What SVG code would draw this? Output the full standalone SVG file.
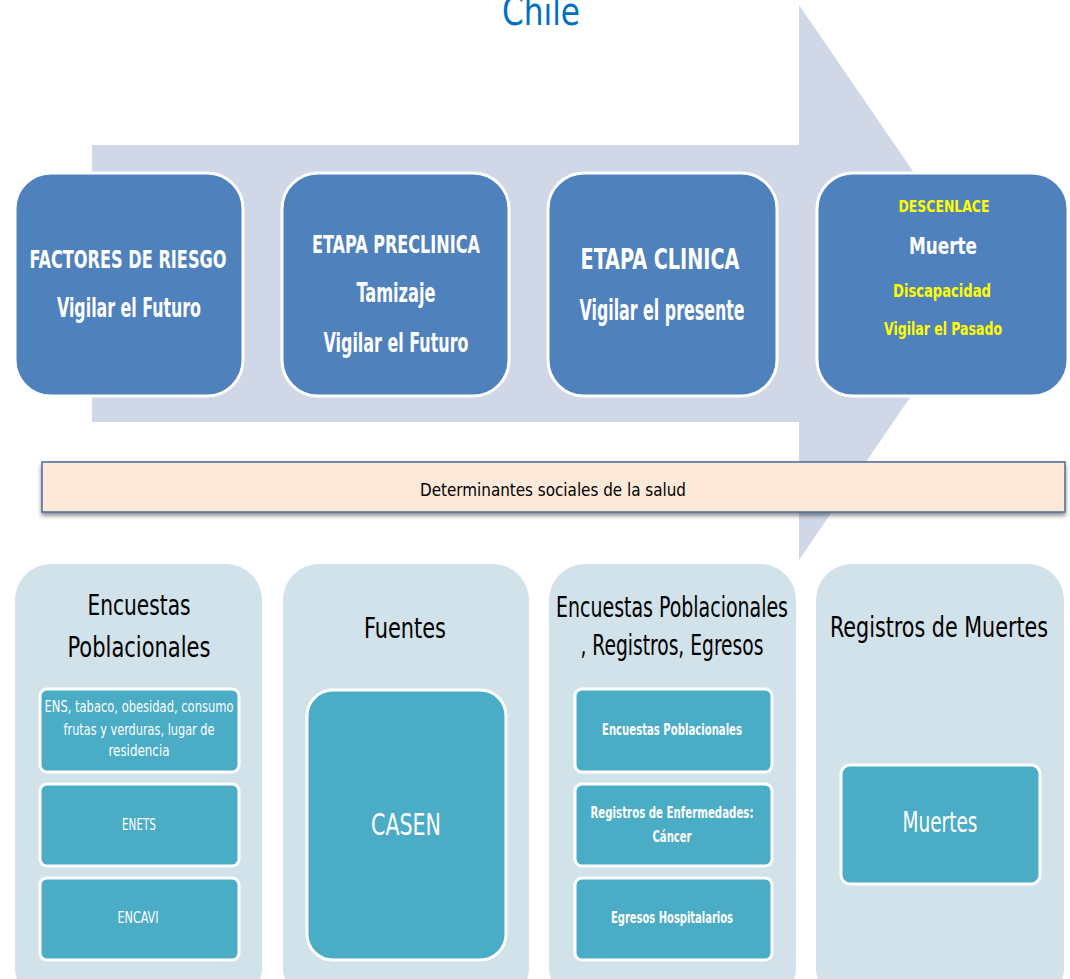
<svg xmlns="http://www.w3.org/2000/svg" width="1070" height="979" viewBox="0 0 1070 979">
<defs>
<style>
text{font-family:"Liberation Sans Narrow","DejaVu Sans Condensed","Liberation Sans",sans-serif;text-anchor:middle}
.stage{fill:#4F81BD;stroke:#FFFFFF;stroke-width:3}
.panel{fill:#D1E2EA}
.inner{fill:#4BACC6;stroke:#FFFFFF;stroke-width:3}
.w{fill:#FFFFFF}
.wb{fill:#FFFFFF;font-weight:bold}
.yb{fill:#FFFF00;font-weight:bold}
.k{fill:#000000}
</style>
<filter id="sh" x="-5%" y="-30%" width="110%" height="170%">
<feDropShadow dx="0" dy="3" stdDeviation="2" flood-color="#000000" flood-opacity="0.45"/>
</filter>
</defs>
<rect width="1070" height="979" fill="#FFFFFF"/>
<text x="541" y="25" font-size="39" fill="#0070C0" textLength="78" lengthAdjust="spacingAndGlyphs">Chile</text>
<g id="connectors">
<polygon points="92,145 799,145 799,5 989,282 799,560 799,422 92,422" fill="#D0D8E8"/>
</g>
<g id="factores">
<rect class="stage" x="15" y="173" width="228" height="223" rx="36"/>
<text class="wb" x="128" y="268" font-size="24" textLength="197" lengthAdjust="spacingAndGlyphs">FACTORES DE RIESGO</text>
<text class="wb" x="129" y="317" font-size="27" textLength="144" lengthAdjust="spacingAndGlyphs">Vigilar el Futuro</text>
</g>
<g id="preclinica">
<rect class="stage" x="282" y="173" width="227" height="223" rx="36"/>
<text class="wb" x="396" y="253" font-size="24" textLength="168" lengthAdjust="spacingAndGlyphs">ETAPA PRECLINICA</text>
<text class="wb" x="396" y="302" font-size="27" textLength="79" lengthAdjust="spacingAndGlyphs">Tamizaje</text>
<text class="wb" x="396" y="352" font-size="27" textLength="145" lengthAdjust="spacingAndGlyphs">Vigilar el Futuro</text>
</g>
<g id="clinica">
<rect class="stage" x="548" y="173" width="229" height="223" rx="36"/>
<text class="wb" x="660" y="269" font-size="28" textLength="159" lengthAdjust="spacingAndGlyphs">ETAPA CLINICA</text>
<text class="wb" x="662" y="320" font-size="28" textLength="165" lengthAdjust="spacingAndGlyphs">Vigilar  el presente</text>
</g>
<g id="descenlace">
<rect class="stage" x="817" y="173" width="251" height="223" rx="36"/>
<text class="yb" x="944" y="212" font-size="16" textLength="91" lengthAdjust="spacingAndGlyphs">DESCENLACE</text>
<text class="wb" x="943" y="254" font-size="23" textLength="68" lengthAdjust="spacingAndGlyphs">Muerte</text>
<text class="yb" x="942" y="297" font-size="18" textLength="98" lengthAdjust="spacingAndGlyphs">Discapacidad</text>
<text class="yb" x="943" y="335" font-size="17" textLength="118" lengthAdjust="spacingAndGlyphs">Vigilar el Pasado</text>
</g>
<g id="determinantes">
<rect x="42" y="462" width="1023" height="50" fill="#FDE9D9" stroke="#4A6A96" stroke-width="1.5" filter="url(#sh)"/>
<text class="k" x="553" y="496" font-size="18" textLength="266" lengthAdjust="spacingAndGlyphs">Determinantes sociales de la salud</text>
</g>
<g id="panel-encuestas">
<rect class="panel" x="15" y="564" width="247" height="440" rx="36"/>
<text class="k" x="139" y="615" font-size="28" textLength="103" lengthAdjust="spacingAndGlyphs">Encuestas</text>
<text class="k" x="139" y="657" font-size="28" textLength="143" lengthAdjust="spacingAndGlyphs">Poblacionales</text>
</g>
<g id="ens">
<rect class="inner" x="40" y="689" width="199" height="83" rx="7"/>
<text class="w" x="139" y="712" font-size="15" textLength="189" lengthAdjust="spacingAndGlyphs">ENS,  tabaco, obesidad, consumo</text>
<text class="w" x="139" y="735" font-size="15" textLength="151" lengthAdjust="spacingAndGlyphs">frutas y verduras, lugar de</text>
<text class="w" x="139" y="756" font-size="15" textLength="61" lengthAdjust="spacingAndGlyphs">residencia</text>
</g>
<g id="enets">
<rect class="inner" x="40" y="784" width="199" height="82" rx="7"/>
<text class="w" x="139" y="830" font-size="15" textLength="34" lengthAdjust="spacingAndGlyphs">ENETS</text>
</g>
<g id="encavi">
<rect class="inner" x="40" y="878" width="199" height="82" rx="7"/>
<text class="w" x="138" y="923" font-size="15" textLength="41" lengthAdjust="spacingAndGlyphs">ENCAVI</text>
</g>
<g id="panel-fuentes">
<rect class="panel" x="283" y="564" width="246" height="440" rx="36"/>
<text class="k" x="405" y="638" font-size="28" textLength="82" lengthAdjust="spacingAndGlyphs">Fuentes</text>
</g>
<g id="casen">
<rect class="inner" x="307" y="690" width="199" height="270" rx="26"/>
<text class="w" x="406" y="835" font-size="30" textLength="70" lengthAdjust="spacingAndGlyphs">CASEN</text>
</g>
<g id="panel-registros">
<rect class="panel" x="549" y="564" width="247" height="440" rx="36"/>
<text class="k" x="672" y="617" font-size="28" textLength="232" lengthAdjust="spacingAndGlyphs">Encuestas Poblacionales</text>
<text class="k" x="672" y="655" font-size="28" textLength="183" lengthAdjust="spacingAndGlyphs">, Registros, Egresos</text>
</g>
<g id="encuestas-pob">
<rect class="inner" x="575" y="689" width="197" height="83" rx="7"/>
<text class="wb" x="672" y="735" font-size="15" textLength="140" lengthAdjust="spacingAndGlyphs">Encuestas  Poblacionales</text>
</g>
<g id="registros-enf">
<rect class="inner" x="575" y="784" width="197" height="82" rx="7"/>
<text class="wb" x="672" y="818" font-size="15" textLength="163" lengthAdjust="spacingAndGlyphs">Registros de Enfermedades:</text>
<text class="wb" x="672" y="842" font-size="15" textLength="39" lengthAdjust="spacingAndGlyphs">Cáncer</text>
</g>
<g id="egresos">
<rect class="inner" x="575" y="878" width="197" height="82" rx="7"/>
<text class="wb" x="672" y="923" font-size="15" textLength="122" lengthAdjust="spacingAndGlyphs">Egresos Hospitalarios</text>
</g>
<g id="panel-muertes">
<rect class="panel" x="816" y="564" width="248" height="440" rx="36"/>
<text class="k" x="939" y="637" font-size="28" textLength="218" lengthAdjust="spacingAndGlyphs">Registros de Muertes</text>
</g>
<g id="muertes">
<rect class="inner" x="841" y="765" width="199" height="119" rx="9"/>
<text class="w" x="940" y="832" font-size="28" textLength="75" lengthAdjust="spacingAndGlyphs">Muertes</text>
</g>
</svg>
